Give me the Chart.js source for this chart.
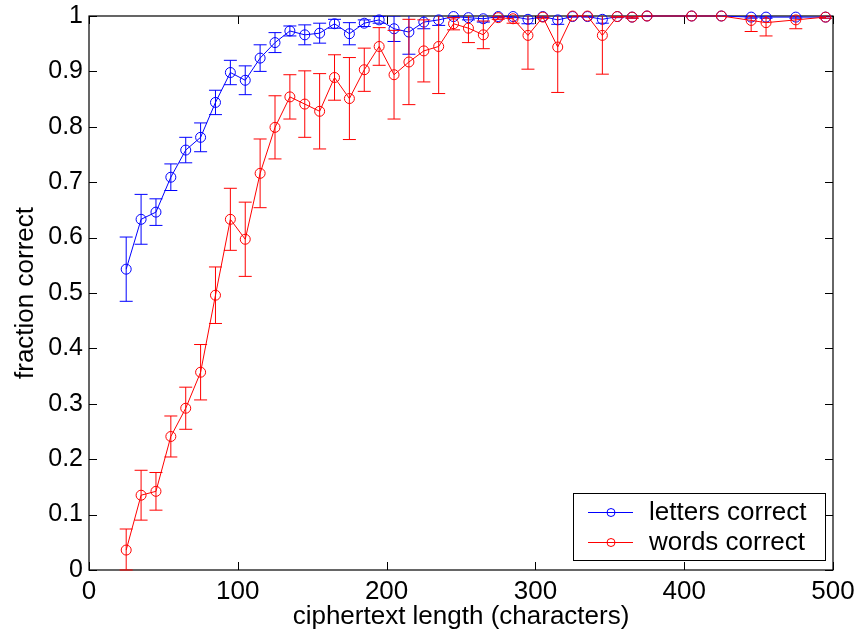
<!DOCTYPE html>
<html>
<head>
<meta charset="utf-8">
<script src="https://cdn.jsdelivr.net/npm/chart.js@4.4.1/dist/chart.umd.min.js"></script>
<style>
  html, body { margin: 0; padding: 0; background: #fff; }
  #wrap { width: 857px; height: 632px; position: relative; }
</style>
</head>
<body>
<div id="wrap"><canvas id="chart"></canvas></div>
<script>
// ciphertext length (x), step 10 up to 375, then a few longer lengths
const lengths = [25, 35, 45, 55, 65, 75, 85, 95, 105, 115, 125, 135, 145, 155, 165, 175, 185, 195,
  205, 215, 225, 235, 245, 255, 265, 275, 285, 295, 305, 315, 325, 335, 345, 355, 365, 375,
  405, 425, 445, 455, 475, 495];

const lettersCorrect = [0.543, 0.633, 0.646, 0.709, 0.758, 0.781, 0.844, 0.898, 0.884, 0.924, 0.952, 0.973,
  0.966, 0.969, 0.986, 0.968, 0.987, 0.993, 0.977, 0.971, 0.989, 0.993, 0.999, 0.997, 0.995, 0.999,
  0.999, 0.994, 0.999, 0.993, 0.999, 0.999, 0.994, 0.999, 0.998, 1.0, 1.0, 1.0, 0.998, 0.998, 0.998, 0.998];
const lettersErr = [0.058, 0.045, 0.024, 0.024, 0.023, 0.026, 0.022, 0.022, 0.026, 0.024, 0.018, 0.009,
  0.018, 0.018, 0.008, 0.020, 0.006, 0.006, 0.023, 0.040, 0.012, 0.010, 0.002, 0.004, 0.006, 0.002,
  0.002, 0.008, 0.002, 0.008, 0.001, 0.001, 0.007, 0.002, 0.002, 0.001, 0, 0, 0.002, 0.002, 0.002, 0.002];

const wordsCorrect = [0.036, 0.135, 0.142, 0.241, 0.292, 0.357, 0.496, 0.633, 0.597, 0.716, 0.799, 0.854,
  0.841, 0.828, 0.889, 0.851, 0.903, 0.945, 0.894, 0.917, 0.937, 0.945, 0.986, 0.978, 0.966, 0.997,
  0.995, 0.965, 0.998, 0.944, 1.0, 1.0, 0.965, 0.999, 0.998, 1.0, 1.0, 1.0, 0.992, 0.988, 0.993, 0.998];
const wordsErr = [0.038, 0.045, 0.034, 0.037, 0.038, 0.050, 0.051, 0.056, 0.067, 0.062, 0.057, 0.040,
  0.060, 0.068, 0.041, 0.074, 0.039, 0.034, 0.080, 0.077, 0.056, 0.085, 0.011, 0.026, 0.025, 0.003,
  0.008, 0.061, 0.002, 0.082, 0, 0, 0.070, 0.001, 0.002, 0, 0, 0, 0.020, 0.024, 0.016, 0.002];

const seriesNames = ["letters correct", "words correct"];
const xTicks = [0, 100, 200, 300, 400, 500];
const yTicks = [0, 0.1, 0.2, 0.3, 0.4, 0.5, 0.6, 0.7, 0.8, 0.9, 1];

(function () {
  "use strict";

  const FONT = "'Liberation Sans', Arial, Helvetica, sans-serif";
  const BLUE = "#0000ff";
  const RED = "#ff0000";
  const toPoints = (ys) => lengths.map((x, i) => ({ x, y: ys[i] }));

  // 세로 오차막대 (데이터셋마다 위에 그림)
  const errorBars = {
    id: "errorBars",
    afterDatasetDraw(chart, args) {
      const ds = chart.data.datasets[args.index];
      if (!ds.err) return;
      const { ctx, chartArea: a, scales } = chart;
      const cap = 6.5;
      ctx.save();
      ctx.beginPath();
      ctx.rect(a.left - 10, a.top, a.right - a.left + 20, a.bottom - a.top + 1);
      ctx.clip();
      ctx.strokeStyle = ds.borderColor;
      ctx.lineWidth = 1;
      ds.data.forEach((p, i) => {
        const e = ds.err[i];
        if (!e) return;
        const px = scales.x.getPixelForValue(p.x);
        const hi = scales.y.getPixelForValue(p.y + e);
        const lo = scales.y.getPixelForValue(Math.max(0, p.y - e));
        ctx.beginPath();
        ctx.moveTo(px, hi);
        ctx.lineTo(px, lo);
        ctx.moveTo(px - cap, hi);
        ctx.lineTo(px + cap, hi);
        ctx.moveTo(px - cap, lo);
        ctx.lineTo(px + cap, lo);
        ctx.stroke();
      });
      ctx.restore();
    },
  };

  // 축 상자 + 안쪽으로 향한 눈금 (MATLAB 스타일)
  const axesBox = {
    id: "axesBox",
    beforeDatasetsDraw(chart) {
      const { ctx, chartArea: a, scales } = chart;
      const tl = 8;
      ctx.save();
      ctx.strokeStyle = "#000";
      ctx.lineWidth = 1.2;
      ctx.strokeRect(a.left, a.top, a.right - a.left, a.bottom - a.top);
      ctx.beginPath();
      yTicks.forEach((v) => {
        const py = Math.round(scales.y.getPixelForValue(v)) + 0.5;
        ctx.moveTo(a.left, py);
        ctx.lineTo(a.left + tl, py);
        ctx.moveTo(a.right, py);
        ctx.lineTo(a.right - tl, py);
      });
      xTicks.forEach((v) => {
        const px = Math.round(scales.x.getPixelForValue(v)) + 0.5;
        ctx.moveTo(px, a.bottom);
        ctx.lineTo(px, a.bottom - tl);
        ctx.moveTo(px, a.top);
        ctx.lineTo(px, a.top + tl);
      });
      ctx.lineWidth = 1;
      ctx.stroke();
      ctx.restore();
    },
  };

  // 오른쪽 아래 범례
  const boxLegend = {
    id: "boxLegend",
    afterDraw(chart) {
      const { ctx } = chart;
      const box = { x: 573, y: 493, w: 252, h: 67 };
      ctx.save();
      ctx.fillStyle = "#fff";
      ctx.fillRect(box.x, box.y, box.w, box.h);
      ctx.strokeStyle = "#000";
      ctx.lineWidth = 1;
      ctx.strokeRect(box.x + 0.5, box.y + 0.5, box.w, box.h);
      const rows = [512, 542];
      const colors = [BLUE, RED];
      ctx.font = "26px " + FONT;
      ctx.textBaseline = "middle";
      rows.forEach((ry, i) => {
        ctx.strokeStyle = colors[i];
        ctx.beginPath();
        ctx.moveTo(588, ry + 0.5);
        ctx.lineTo(633, ry + 0.5);
        ctx.stroke();
        ctx.beginPath();
        ctx.arc(611, ry + 0.5, 4, 0, Math.PI * 2);
        ctx.stroke();
        ctx.fillStyle = "#000";
        ctx.fillText(seriesNames[i], 649, ry + 1);
      });
      ctx.restore();
    },
  };

  const lineSet = (label, ys, err, color, order) => ({
    label,
    data: toPoints(ys),
    err,
    order,
    borderColor: color,
    backgroundColor: "rgba(0,0,0,0)",
    borderWidth: 1,
    pointRadius: 5,
    pointHoverRadius: 5,
    pointBorderWidth: 1,
    pointBorderColor: color,
    pointBackgroundColor: "rgba(0,0,0,0)",
    tension: 0,
    clip: false,
    showLine: true,
  });

  new Chart(document.getElementById("chart"), {
    type: "scatter",
    data: {
      datasets: [
        lineSet(seriesNames[0], lettersCorrect, lettersErr, BLUE, 1),
        lineSet(seriesNames[1], wordsCorrect, wordsErr, RED, 0),
      ],
    },
    plugins: [axesBox, errorBars, boxLegend],
    options: {
      responsive: true,
      maintainAspectRatio: false,
      animation: false,
      events: [],
      layout: { padding: { left: 0, top: 16, right: 24, bottom: 0 } },
      plugins: { legend: { display: false }, tooltip: { enabled: false } },
      scales: {
        x: {
          type: "linear",
          min: 0,
          max: 500,
          afterFit: (s) => {
            s.height = 62;
            s.paddingLeft = 0;
            s.paddingRight = 0;
          },
          afterBuildTicks: (s) => { s.ticks = xTicks.map((v) => ({ value: v })); },
          grid: { display: false, drawTicks: false },
          border: { display: false },
          ticks: { color: "#000", padding: 6, maxRotation: 0, font: { family: FONT, size: 26 } },
          title: {
            display: true,
            text: "ciphertext length (characters)",
            color: "#000",
            padding: { top: 0, bottom: 0 },
            font: { family: FONT, size: 26 },
          },
        },
        y: {
          type: "linear",
          min: 0,
          max: 1,
          afterFit: (s) => {
            s.width = 89;
            s.paddingTop = 0;
            s.paddingBottom = 0;
          },
          afterBuildTicks: (s) => { s.ticks = yTicks.map((v) => ({ value: v })); },
          grid: { display: false, drawTicks: false },
          border: { display: false },
          ticks: {
            color: "#000",
            padding: 6,
            font: { family: FONT, size: 25 },
            callback: (v) => (v === 0 || v === 1 ? String(v) : v.toFixed(1)),
          },
          title: {
            display: true,
            text: "fraction correct",
            color: "#000",
            padding: { top: 10, bottom: 0 },
            font: { family: FONT, size: 26 },
          },
        },
      },
    },
  });
})();
</script>
</body>
</html>
